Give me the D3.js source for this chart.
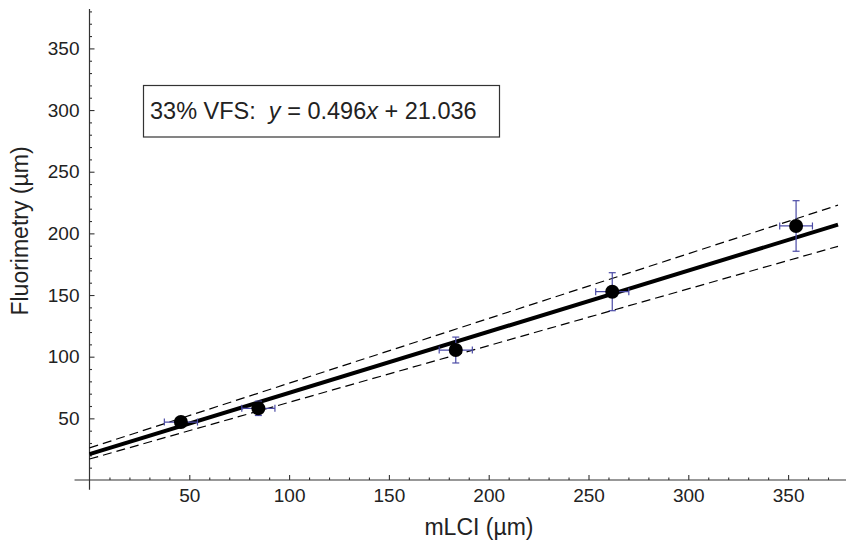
<!DOCTYPE html>
<html>
<head>
<meta charset="utf-8">
<script src="https://cdn.jsdelivr.net/npm/d3@7"></script>
<style>
  body { margin: 0; background: #fff; }
  svg { display: block; font-family: "Liberation Sans", Arial, sans-serif; }
</style>
</head>
<body>
<svg width="846" height="541"></svg>
<script>
// data
const mlci   = [45.8, 84.6, 183.5, 261.9, 354.0];
const fluor  = [47.0, 58.1, 105.4, 152.7, 206.0];
const xErr   = [8.3, 8.3, 8.3, 8.3, 8.2];
const yErr   = [3, 5.8, 10.5, 15.4, 20.5];
const fit    = { slope: 0.496, intercept: 21.036 };
const upperBand = { slope: 0.525, intercept: 26 };
const lowerBand = { slope: 0.46, intercept: 17 };
const xTicks = [50, 100, 150, 200, 250, 300, 350];
const yTicks = [50, 100, 150, 200, 250, 300, 350];

const svg = d3.select("svg");
const x = d3.scaleLinear().domain([0, 375]).range([89.5, 838]);
const y = d3.scaleLinear().domain([0, 350]).range([480, 48.4]);
const axisCol = "#333";

// axis lines (with small overhang past origin)
svg.append("line")
  .attr("x1", x(-7.5)).attr("x2", x(380))
  .attr("y1", y(0)).attr("y2", y(0))
  .attr("stroke", axisCol).attr("stroke-width", 1.2);
svg.append("line")
  .attr("x1", x(0)).attr("x2", x(0))
  .attr("y1", y(-8)).attr("y2", y(382))
  .attr("stroke", axisCol).attr("stroke-width", 1.2);

// x ticks
const xAxis = svg.append("g")
  .attr("transform", `translate(0,${y(0)})`)
  .call(d3.axisBottom(x).tickValues(xTicks).tickSizeInner(-5).tickSizeOuter(0).tickPadding(9));
xAxis.select(".domain").remove();
const xMinor = svg.append("g")
  .attr("transform", `translate(0,${y(0)})`)
  .call(d3.axisBottom(x).tickValues(d3.range(10, 380, 10).filter(v => v % 50)).tickSizeInner(-2.5).tickSizeOuter(0).tickFormat(""));
xMinor.select(".domain").remove();

// y ticks
const yAxis = svg.append("g")
  .attr("transform", `translate(${x(0)},0)`)
  .call(d3.axisLeft(y).tickValues(yTicks).tickSizeInner(-5).tickSizeOuter(0).tickPadding(10));
yAxis.select(".domain").remove();
const yMinor = svg.append("g")
  .attr("transform", `translate(${x(0)},0)`)
  .call(d3.axisLeft(y).tickValues(d3.range(10, 390, 10).filter(v => v % 50)).tickSizeInner(-2.5).tickSizeOuter(0).tickFormat(""));
yMinor.select(".domain").remove();

svg.selectAll(".tick line").attr("stroke", axisCol).attr("stroke-width", 1.1);
svg.selectAll(".tick text")
  .attr("font-family", "Liberation Sans, Arial, sans-serif")
  .attr("font-size", 19).attr("fill", "#222");

// axis titles
svg.append("text")
  .attr("x", 479).attr("y", 535)
  .attr("text-anchor", "middle").attr("font-size", 23).attr("fill", "#222")
  .text("mLCI (µm)");
svg.append("text")
  .attr("transform", "translate(28,231) rotate(-90)")
  .attr("text-anchor", "middle").attr("font-size", 23).attr("fill", "#222")
  .text("Fluorimetry (µm)");

// fit and band lines
const xs = [0, 375];
const lineFor = p => d3.line().x(d => x(d)).y(d => y(p.slope * d + p.intercept));
svg.append("path").datum(xs).attr("d", lineFor(upperBand))
  .attr("fill", "none").attr("stroke", "#000").attr("stroke-width", 1.2).attr("stroke-dasharray", "9,5");
svg.append("path").datum(xs).attr("d", lineFor(lowerBand))
  .attr("fill", "none").attr("stroke", "#000").attr("stroke-width", 1.2).attr("stroke-dasharray", "9,5");
svg.append("path").datum(xs).attr("d", lineFor(fit))
  .attr("fill", "none").attr("stroke", "#000").attr("stroke-width", 4);

// error bars
const pts = mlci.map((v, i) => ({ x: v, y: fluor[i], ex: xErr[i], ey: yErr[i] }));
const errCol = "#4b4ba6";
const eb = svg.append("g").attr("stroke", errCol).attr("stroke-width", 1.2);
const cap = 3.5;
pts.forEach(p => {
  eb.append("line").attr("x1", x(p.x - p.ex)).attr("x2", x(p.x + p.ex)).attr("y1", y(p.y)).attr("y2", y(p.y));
  eb.append("line").attr("x1", x(p.x - p.ex)).attr("x2", x(p.x - p.ex)).attr("y1", y(p.y) - cap).attr("y2", y(p.y) + cap);
  eb.append("line").attr("x1", x(p.x + p.ex)).attr("x2", x(p.x + p.ex)).attr("y1", y(p.y) - cap).attr("y2", y(p.y) + cap);
  eb.append("line").attr("x1", x(p.x)).attr("x2", x(p.x)).attr("y1", y(p.y - p.ey)).attr("y2", y(p.y + p.ey));
  eb.append("line").attr("x1", x(p.x) - cap).attr("x2", x(p.x) + cap).attr("y1", y(p.y - p.ey)).attr("y2", y(p.y - p.ey));
  eb.append("line").attr("x1", x(p.x) - cap).attr("x2", x(p.x) + cap).attr("y1", y(p.y + p.ey)).attr("y2", y(p.y + p.ey));
});

// points
svg.append("g").selectAll("circle").data(pts).join("circle")
  .attr("cx", d => x(d.x)).attr("cy", d => y(d.y)).attr("r", 7).attr("fill", "#000");

// equation box
svg.append("rect")
  .attr("x", 143.5).attr("y", 85.5).attr("width", 356).attr("height", 51.5)
  .attr("fill", "#fff").attr("stroke", "#333").attr("stroke-width", 1.2);
const eq = svg.append("text")
  .attr("x", 150).attr("y", 119).attr("font-size", 23.5).attr("fill", "#222")
  .attr("xml:space", "preserve");
eq.append("tspan").text("33% VFS:  ");
eq.append("tspan").attr("font-style", "italic").text("y");
eq.append("tspan").text(" = 0.496");
eq.append("tspan").attr("font-style", "italic").text("x");
eq.append("tspan").text(" + 21.036");
</script>
</body>
</html>
